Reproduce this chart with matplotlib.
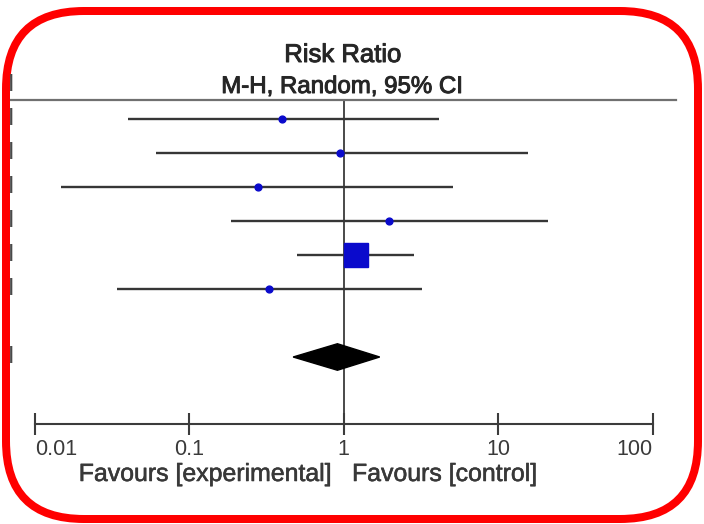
import matplotlib
matplotlib.use("Agg")
import matplotlib.pyplot as plt
import matplotlib.transforms as mtransforms
import matplotlib.patheffects as pe
from matplotlib.patches import FancyBboxPatch, Polygon
import numpy as np

# ---- data ----
rr = [0.40, 0.95, 0.28, 1.97, 1.20, 0.33]
ci_low = [0.040, 0.061, 0.0147, 0.185, 0.50, 0.034]
ci_high = [4.12, 15.5, 5.13, 20.9, 2.84, 3.20]
weights = [5.0, 5.0, 5.0, 5.0, 60.0, 5.0]
pooled_rr = 0.91
pooled_low = 0.47
pooled_high = 1.71
tick_values = [0.01, 0.1, 1, 10, 100]
tick_labels = ["0.01", "0.1", "1", "10", "100"]
title_lines = ["Risk Ratio", "M-H, Random, 95% CI"]
favours_left = "Favours [experimental]"
favours_right = "Favours [control]"

W, H = 704, 524
DPI = 100
plt.rcParams['font.family'] = ['Liberation Sans', 'DejaVu Sans']

fig = plt.figure(figsize=(W / DPI, H / DPI), dpi=DPI)
fig.patch.set_facecolor('white')

def fx(px):
    return px / W

def fy(py):
    return 1 - py / H

def heavy(col, lw=0.7):
    return [pe.withStroke(linewidth=lw, foreground=col)]

ax_left, ax_right = 35, 652.5
ax_top, ax_bot = 100, 424
ax = fig.add_axes([fx(ax_left), fy(ax_bot), fx(ax_right - ax_left), (ax_bot - ax_top) / H])
ax.set_xscale('log')
ax.set_xlim(0.01, 100)
row_sp = 34.0
ax.set_ylim((ax_bot - 119) / row_sp, (ax_top - 119) / row_sp)
ax.patch.set_alpha(0)

for s in ['top', 'left', 'right']:
    ax.spines[s].set_visible(False)
ax.spines['bottom'].set_color('#3c3c3c')
ax.spines['bottom'].set_linewidth(1.5)
ax.set_yticks([])
ax.set_xticks(tick_values)
ax.set_xticklabels(tick_labels)
ax.xaxis.set_minor_locator(matplotlib.ticker.NullLocator())
ax.tick_params(axis='x', direction='inout', length=16, width=1.5, color='#3c3c3c',
               labelsize=15.5, labelcolor='#3a3a3a', pad=3)
xt = ax.get_xticklabels()
xt[0].set_horizontalalignment('left')
xt[-1].set_horizontalalignment('right')

line_col = '#363636'
blue = '#0a0acc'
ys = np.arange(len(rr))
for i in range(len(rr)):
    ax.plot([ci_low[i], ci_high[i]], [ys[i], ys[i]], color=line_col, lw=1.7,
            solid_capstyle='butt', zorder=2)
    w = weights[i]
    if w > 20:
        ax.plot(rr[i], ys[i], marker='s', ms=2.25 * np.sqrt(w), color=blue, mec=blue, zorder=3)
    else:
        ax.plot(rr[i], ys[i], marker='o', ms=2.2 * np.sqrt(w), color=blue, mec=blue, zorder=3)

# null line
ax.axvline(1, color='#3a3a3a', lw=1.3, zorder=1)

# pooled diamond
yd = 7
hh = 0.39
diamond = Polygon([[pooled_low, yd], [pooled_rr, yd - hh], [pooled_high, yd], [pooled_rr, yd + hh]],
                  closed=True, facecolor='black', edgecolor='black', zorder=3)
ax.add_patch(diamond)

# top horizontal rule
ax.axhline((ax_top - 119) / row_sp, xmin=(10 - ax_left) / (ax_right - ax_left),
           xmax=(676 - ax_left) / (ax_right - ax_left), color='#707070', lw=1.6, clip_on=False)

# left-edge fragments of cropped text
trans = mtransforms.blended_transform_factory(fig.transFigure, ax.transData)
for i in list(ys) + [yd]:
    ax.text(fx(11), i, "I", transform=trans, ha='center', va='center', fontsize=17,
            color='#4a4a4a', clip_on=False, zorder=11)
fig.text(fx(11), fy(85), "I", ha='center', va='center', fontsize=17, color='#4a4a4a', zorder=11)

# titles
fig.text(fx(343), fy(62), title_lines[0], ha='center', va='baseline', fontsize=18.5,
         color='#262626', path_effects=heavy('#262626'))
fig.text(fx(342), fy(93), title_lines[1], ha='center', va='baseline', fontsize=17.3,
         color='#262626', path_effects=heavy('#262626'))

# favours labels
fig.text(fx(331), fy(481), favours_left, ha='right', va='baseline', fontsize=17.9,
         color='#383838', path_effects=heavy('#383838', 0.4))
fig.text(fx(352), fy(481), favours_right, ha='left', va='baseline', fontsize=17.9,
         color='#383838', path_effects=heavy('#383838', 0.4))

# red rounded frame
frame = FancyBboxPatch((fx(6), fy(519)), fx(692), (519 - 11) / H,
                       boxstyle=f"round,pad=0,rounding_size={78 / W}",
                       transform=fig.transFigure, facecolor='none', edgecolor='#ff0000',
                       linewidth=8 * 72 / DPI, mutation_aspect=W / H, zorder=10)
fig.patches.append(frame)

fig.savefig('out.png', dpi=DPI)
